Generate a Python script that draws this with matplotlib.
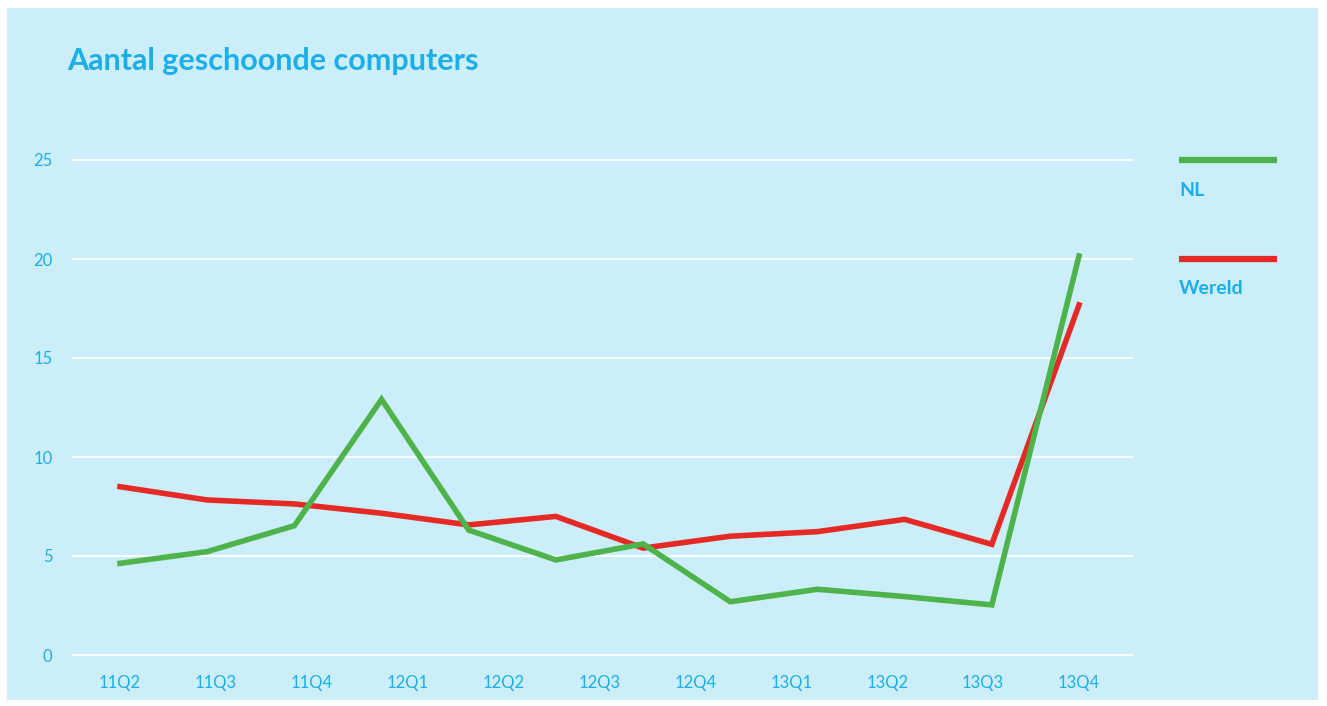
import matplotlib.pyplot as plt
from matplotlib.patches import Rectangle
from matplotlib.lines import Line2D
import numpy as np

labels = ["11Q2", "11Q3", "11Q4", "12Q1", "12Q2", "12Q3", "12Q4", "13Q1", "13Q2", "13Q3", "13Q4"]
nl = [4.63, 5.22, 6.53, 12.91, 6.31, 4.80, 5.61, 2.69, 3.32, 2.95, 2.53, 20.15]
wereld = [8.5, 7.83, 7.63, 7.16, 6.57, 7.0, 5.4, 6.0, 6.23, 6.85, 5.59, 17.68]

bg = "#CBEEFA"
blue = "#1AAEEA"
green = "#4DB34A"
red = "#E52A25"

W, H = 1327, 706
fig = plt.figure(figsize=(W / 100, H / 100), dpi=100)
fig.patch.set_facecolor("white")
fig.add_artist(Rectangle((7 / W, 6 / H), 1311 / W, 692 / H, transform=fig.transFigure,
                         facecolor=bg, edgecolor="none", zorder=-10))

# axes box in pixels: x 72..1133, y(-1)=674.8 .. y(26)=140.2
left, right = 72, 1133
ytop, ybot = 140.2, 674.8
ax = fig.add_axes([left / W, (H - ybot) / H, (right - left) / W, (ybot - ytop) / H])
ax.set_facecolor("none")

x = np.arange(len(nl))
ax.plot(x, wereld, color=red, lw=4, solid_joinstyle="miter", zorder=3)
ax.plot(x, nl, color=green, lw=4, solid_joinstyle="miter", zorder=4)

n = len(nl) - 1
ax.set_xlim(-48 / 87.2, n + 54 / 87.2)
ax.set_ylim(-1, 26)
ax.set_yticks([0, 5, 10, 15, 20, 25])
ax.set_xticks(np.linspace(0, n, len(labels)))
ax.set_xticklabels(labels)
ax.grid(axis="y", color="white", lw=1.3)
ax.set_axisbelow(True)
for s in ax.spines.values():
    s.set_visible(False)
ax.tick_params(length=0, colors=blue, labelsize=12)
ax.tick_params(axis="y", pad=14)
ax.tick_params(axis="x", pad=0)
for t in ax.get_xticklabels() + ax.get_yticklabels():
    t.set_fontfamily("Lato")

fig.text(67 / W, 1 - 61 / H, "Aantal geschoonde computers", color=blue, fontsize=22,
         fontweight="bold", family="Lato", va="center", ha="left")

# legend
for yy, col, name in [(160, green, "NL"), (259, red, "Wereld")]:
    fig.add_artist(Line2D([1179 / W, 1277 / W], [1 - yy / H, 1 - yy / H], color=col, lw=4.5,
                          transform=fig.transFigure, solid_capstyle="butt"))
    fig.text(1179 / W, 1 - (yy + 30) / H, name, color=blue, fontsize=14, fontweight="bold",
             family="Lato", va="center", ha="left")

fig.savefig("out.png", dpi=100, facecolor="white")
